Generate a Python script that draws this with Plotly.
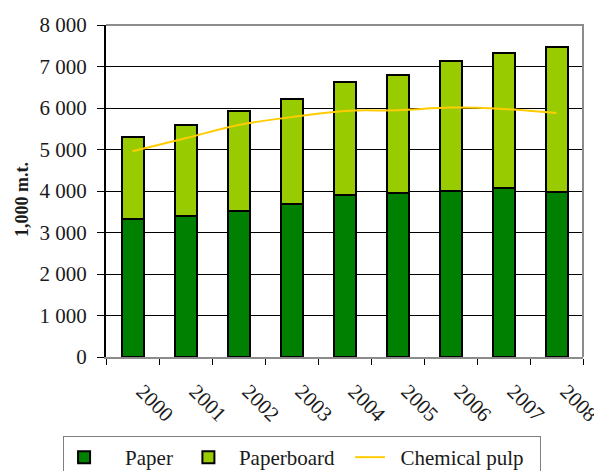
import plotly.graph_objects as go

years = ["2000", "2001", "2002", "2003", "2004", "2005", "2006", "2007", "2008"]
paper = [3320, 3400, 3510, 3690, 3900, 3960, 4010, 4070, 3980]
paperboard = [1980, 2190, 2410, 2530, 2725, 2830, 3130, 3260, 3480]
chemical_pulp = [4960, 5270, 5590, 5780, 5930, 5945, 6010, 5975, 5880]
y_ticks = [0, 1000, 2000, 3000, 4000, 5000, 6000, 7000, 8000]
y_tick_labels = ["0", "1 000", "2 000", "3 000", "4 000", "5 000", "6 000", "7 000", "8 000"]

FONT = "'Liberation Serif', 'Times New Roman', serif"
TXT = "#1a1a1a"
SP = "\u00a0"

fig = go.Figure()
fig.add_trace(go.Bar(x=years, y=paper, name=SP * 4 + "Paper" + SP * 2,
                     marker=dict(color="#008000", line=dict(color="black", width=2))))
fig.add_trace(go.Bar(x=years, y=paperboard, name=SP * 2 + "Paperboard" + SP * 2,
                     marker=dict(color="#99CC00", line=dict(color="black", width=2))))
fig.add_trace(go.Scatter(x=years, y=chemical_pulp, name=SP * 2 + "Chemical pulp" + SP * 2,
                         mode="lines",
                         line=dict(color="#FFCC00", width=2, shape="spline", smoothing=1)))

fig.update_layout(
    barmode="stack",
    bargap=0.585,
    width=602, height=471,
    margin=dict(l=98, r=27, t=17, b=122, autoexpand=False),
    paper_bgcolor="white", plot_bgcolor="white",
    font=dict(family=FONT, size=21, color=TXT),
    showlegend=True,
    legend=dict(orientation="h", x=-0.09, y=-0.238, xanchor="left", yanchor="top",
                bordercolor="#808080", borderwidth=1, bgcolor="white",
                font=dict(family=FONT, size=21, color=TXT),
                traceorder="normal"),
    shapes=[dict(type="path", xref="paper", yref="paper",
                 path="M 0 1 L 1 1 L 1 0", line=dict(color="#8c8c8c", width=2),
                 layer="above")],
    annotations=[dict(text="<b>1,000 m.t.</b>", xref="paper", yref="paper",
                      x=-0.176, y=0.473, xanchor="center", yanchor="middle",
                      textangle=-90, showarrow=False,
                      font=dict(family=FONT, size=18, color=TXT))],
)
fig.update_xaxes(type="category", tickson="boundaries", ticks="outside", ticklen=6,
                 tickcolor="black", tickwidth=1, showline=True, linecolor="#8c8c8c",
                 linewidth=2, tickangle=45, showgrid=False, ticklabelstandoff=12,
                 ticklabelshift=10, automargin=False,
                 tickfont=dict(family=FONT, size=21, color=TXT))
fig.update_yaxes(range=[0, 8000], tickvals=y_ticks, ticktext=y_tick_labels,
                 ticks="outside", ticklen=7, tickcolor="black", showline=True,
                 linecolor="black", linewidth=2, showgrid=True, gridcolor="black",
                 gridwidth=1, zeroline=False, automargin=False, ticklabelstandoff=6,
                 tickfont=dict(family=FONT, size=21, color=TXT))

fig.write_html("out.html")
